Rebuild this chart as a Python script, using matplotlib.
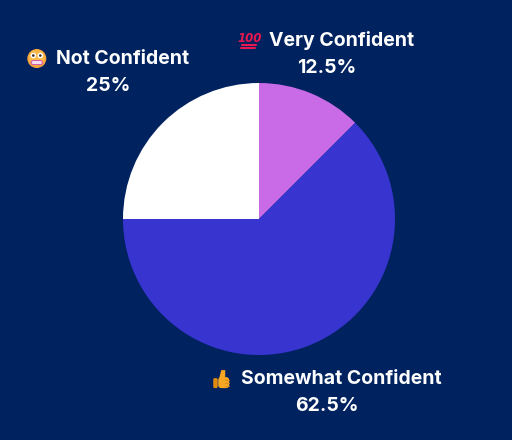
import numpy as np
import matplotlib
matplotlib.use("Agg")
import matplotlib.pyplot as plt
from matplotlib.patches import Circle, FancyBboxPatch, Polygon

categories = ["Very Confident", "Somewhat Confident", "Not Confident"]
emojis = ["\U0001F4AF", "\U0001F44D", "\U0001F62C"]  # drawn as shapes (no emoji font installed)
values = [12.5, 62.5, 25.0]
colors = ["#c96ae6", "#3834d0", "#ffffff"]
bg = "#00225f"

fig = plt.figure(figsize=(5.12, 4.4), dpi=100, facecolor=bg)
ax = fig.add_axes([0, 0, 1, 1])
ax.set_facecolor(bg)

cx, cy, r = 259, 221, 136
wedges, _ = ax.pie(values, colors=colors, startangle=90, counterclock=False,
                   center=(cx, cy), radius=r, frame=True,
                   wedgeprops=dict(linewidth=0))
ax.set_xlim(0, 512)
ax.set_ylim(0, 440)
ax.set_aspect("equal")
ax.axis("off")


def draw_100(x, y):
    ax.text(x, y + 2.5, "100", ha="center", va="center", color="#e8174f",
            fontsize=8.5, fontweight="bold", style="italic", family="DejaVu Sans")
    ax.plot([x - 8, x + 6], [y - 4.5, y - 4.5], color="#e8174f", lw=1.5, solid_capstyle="round")
    ax.plot([x - 9, x + 5], [y - 7.5, y - 7.5], color="#e8174f", lw=1.5, solid_capstyle="round")


def draw_thumb(x, y):
    col = "#f5a623"
    ax.add_patch(FancyBboxPatch((x - 4, y - 9), 11, 11, boxstyle="round,pad=0,rounding_size=3",
                                fc=col, ec="none"))
    ax.add_patch(Polygon([[x - 3, y + 1], [x - 1, y + 9], [x + 3, y + 9], [x + 3, y + 1]],
                         closed=True, fc=col, ec="none"))
    ax.add_patch(FancyBboxPatch((x - 9, y - 9), 4.5, 10, boxstyle="round,pad=0,rounding_size=1.5",
                                fc="#e08a10", ec="none"))
    for k in range(3):
        ax.plot([x + 3, x + 7], [y - 1 - 3 * k, y - 1 - 3 * k], color="#d98a1a", lw=0.6)


def draw_grimace(x, y):
    ax.add_patch(Circle((x, y), 9.5, fc="#f7a23a", ec="none"))
    ax.add_patch(Circle((x, y + 1), 8, fc="#fbb848", ec="none"))
    for dx in (-3.5, 3.5):
        ax.add_patch(Circle((x + dx, y + 3), 2.8, fc="white", ec="none"))
        ax.add_patch(Circle((x + dx, y + 3), 1.3, fc="#3a2a20", ec="none"))
    ax.add_patch(FancyBboxPatch((x - 6, y - 6.5), 12, 5, boxstyle="round,pad=0,rounding_size=2.2",
                                fc="#d25aa8", ec="none"))
    ax.add_patch(FancyBboxPatch((x - 5, y - 5.5), 10, 3, boxstyle="round,pad=0,rounding_size=1.4",
                                fc="#f6e0f0", ec="none"))


drawers = [draw_100, draw_thumb, draw_grimace]
dists = [1.31, 1.371, 1.55]
ang_off = [0.0, -1.1, 0.8]
fam = ["Inter", "DejaVu Sans"]
fs = 14
renderer = fig.canvas.get_renderer()
for w, cat, val, d, ao, drw in zip(wedges, categories, values, dists, ang_off, drawers):
    ang = np.deg2rad((w.theta1 + w.theta2) / 2 + ao)
    x = cx + d * r * np.cos(ang)
    y = cy + d * r * np.sin(ang)
    t = ax.text(0, y + 13.5, cat, ha="left", va="center", color="white",
                fontsize=fs, fontweight="bold", family=fam)
    tw = t.get_window_extent(renderer).width
    total = tw + 29
    left = x - total / 2
    t.set_x(left + 29)
    drw(left + 10, y + 13.5)
    ax.text(x, y - 13.5, f"{val:g}%", ha="center", va="center", color="white",
            fontsize=fs, fontweight="bold", family=fam)

fig.savefig("out.png", dpi=100, facecolor=bg)
